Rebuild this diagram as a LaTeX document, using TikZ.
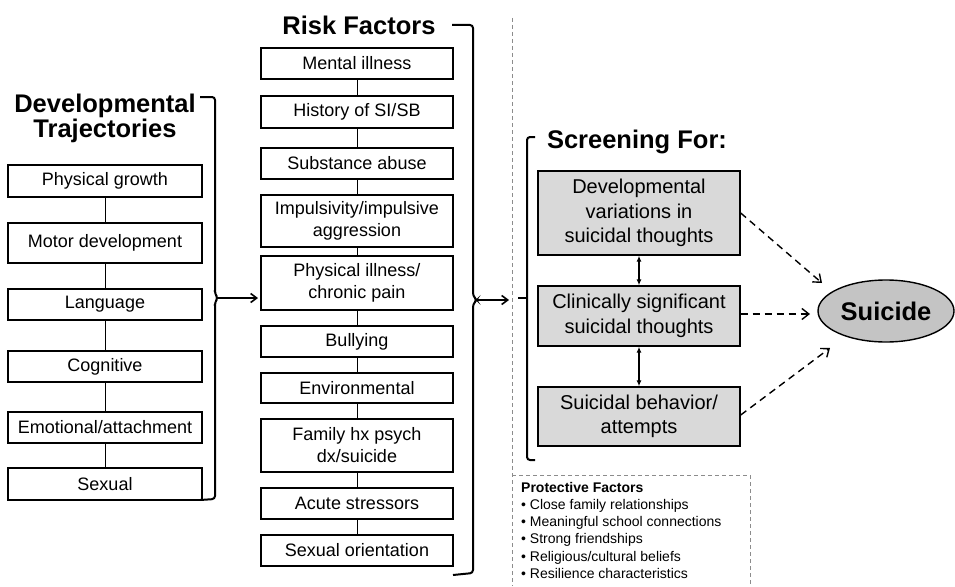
\documentclass[tikz,border=0pt]{standalone}
\usepackage{fontspec}
\setmainfont{Liberation Sans}
\usetikzlibrary{arrows.meta,shapes.geometric}
\definecolor{boxgray}{HTML}{D9D9D9}
\definecolor{ellgray}{HTML}{C4C4C4}
\definecolor{dashgray}{HTML}{8C8C8C}
\begin{document}
\begin{tikzpicture}[x=1pt,y=-1pt,
  wbox/.style={draw=black,line width=1.4pt,fill=white,inner sep=0pt,align=center,font=\fontsize{18}{22}\selectfont},
  lbox/.style={wbox,minimum width=194pt},
  rbox/.style={wbox,minimum width=192pt},
  gbox/.style={draw=black,line width=1.4pt,fill=boxgray,inner sep=0pt,minimum width=202pt,align=center,font=\fontsize{20}{24.5}\selectfont},
  title/.style={font=\bfseries\fontsize{25.5}{25}\selectfont,align=center,inner sep=0pt},
  link/.style={line width=0.8pt},
  brk/.style={line width=2pt,rounded corners=3pt},
  brarrow/.style={line width=1.6pt,-{Straight Barb[length=6pt,width=9pt]}},
  dasharrow/.style={line width=1.4pt,dash pattern=on 7pt off 5pt,-{Straight Barb[length=7pt,width=11pt]}},
  dbl/.style={line width=1.4pt,{Latex[length=6pt,width=5pt]}-{Latex[length=6pt,width=5pt]}},
  sep/.style={draw=dashgray,line width=0.8pt,dash pattern=on 4pt off 3pt}
]
\useasboundingbox (0,0) rectangle (955,586);

% titles
\node[title] (devtitle) at (105,118) {Developmental\\Trajectories};
\node[title] (risktitle) at (359,25) {Risk Factors};
\node[title] (scrtitle) at (637,142) {Screening For:};

% developmental column
\node[lbox,minimum height=32pt] (d1) at (105,181) {Physical growth};
\node[lbox,minimum height=40pt] (d2) at (105,243) {Motor development};
\node[lbox,minimum height=31pt] (d3) at (105,304.5) {Language};
\node[lbox,minimum height=31pt] (d4) at (105,366.5) {Cognitive};
\node[lbox,minimum height=31pt] (d5) at (105,427.5) {Emotional/attachment};
\node[lbox,minimum height=32pt] (d6) at (105,484) {Sexual};
\foreach \a/\b in {d1/d2,d2/d3,d3/d4,d4/d5,d5/d6}
  \draw[link] (\a.south) -- (\b.north);

% risk column
\node[rbox,minimum height=31pt] (r1) at (357,63.5) {Mental illness};
\node[rbox,minimum height=32pt] (r2) at (357,112) {History of SI/SB};
\node[rbox,minimum height=31pt] (r3) at (357,163.5) {Substance abuse};
\node[rbox,minimum height=52pt] (r4) at (357,221) {Impulsivity/impulsive\\aggression};
\node[rbox,minimum height=54pt] (r5) at (357,283) {Physical illness/\\chronic pain};
\node[rbox,minimum height=31pt] (r6) at (357,341.5) {Bullying};
\node[rbox,minimum height=30pt] (r7) at (357,388) {Environmental};
\node[rbox,minimum height=53pt] (r8) at (357,445.5) {Family hx psych\\dx/suicide};
\node[rbox,minimum height=31pt] (r9) at (357,503.5) {Acute stressors};
\node[rbox,minimum height=31pt] (r10) at (357,550.5) {Sexual orientation};
\foreach \a/\b in {r1/r2,r2/r3,r3/r4,r4/r5,r5/r6,r6/r7,r7/r8,r8/r9,r9/r10}
  \draw[link] (\a.south) -- (\b.north);

% separator and protective factors
\draw[sep] (512,18) -- (512,586);
\draw[sep] (512,475) -- (750,475) -- (750,586);
\node[anchor=north west,align=left,inner sep=0pt,font=\fontsize{14}{17.2}\selectfont] (prot) at (521,482)
 {\textbf{Protective Factors}\\
  • Close family relationships\\
  • Meaningful school connections\\
  • Strong friendships\\
  • Religious/cultural beliefs\\
  • Resilience characteristics};

% screening boxes
\node[gbox,minimum height=84pt] (s1) at (639,213) {Developmental\\variations in\\suicidal thoughts};
\node[gbox,minimum height=60pt] (s2) at (639,316) {Clinically significant\\suicidal thoughts};
\node[gbox,minimum height=59pt] (s3) at (639,416.5) {Suicidal behavior/\\attempts};
\draw[dbl] (s1.south) -- (s2.north);
\draw[dbl] (s2.south) -- (s3.north);

% suicide
\node[ellipse,draw=black,line width=1.4pt,fill=ellgray,minimum width=136pt,minimum height=62pt,inner sep=0pt,font=\bfseries\fontsize{25.5}{25}\selectfont] (sui) at (886,311) {Suicide};
\coordinate (t1) at (822,283);
\coordinate (t2) at (810,314);
\coordinate (t3) at (830,348);
\draw[dasharrow] (s1.east |- 0,213) -- (t1);
\draw[dasharrow] (s2.east |- 0,314) -- (t2);
\draw[dasharrow] (s3.east |- 0,415) -- (t3);

% brackets
\coordinate (devtip) at (218,298);
\coordinate (risktip) at (477,300);
\coordinate (riskin) at (258,298);
\coordinate (scrin) at (509,300);
\draw[brk] (200,97) -- (215,97) -- (215,294) -- (devtip) -- (215,302) -- (215,499) -- (200,500);
\draw[brk] (452,25) -- (473,25) -- (473,296) -- (risktip) -- (473,304) -- (473,573) -- (453,575);
\draw[brk] (535,137) -- (527,137) -- (527,460) -- (535,460);
\draw[line width=2pt] (527,298) -- (518,298);
\draw[brarrow] (devtip) -- (riskin);
\draw[brarrow] (risktip) -- (scrin);
\end{tikzpicture}
\end{document}
